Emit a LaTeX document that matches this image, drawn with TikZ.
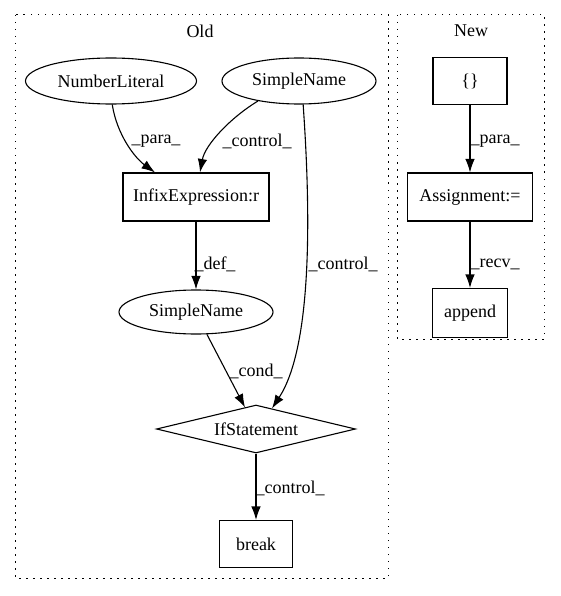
\documentclass[tikz,border=0pt]{standalone}
\usepackage{fontspec}
\setmainfont{Liberation Serif}
\usetikzlibrary{arrows.meta, shapes.geometric}
\tikzstyle{dots} = [dash pattern=on 1.5pt off 5.5pt, line width=1pt]
\tikzstyle{box} = [draw, line width=1.1pt, minimum height=48pt, inner sep=0pt]
\tikzstyle{oval} = [draw, ellipse, line width=1.1pt, minimum height=46pt, inner sep=0pt]
\tikzstyle{edge} = [-{Latex[length=13.5pt,width=9.5pt]}, line width=1.1pt]

\begin{document}
\begin{tikzpicture}[x=1pt, y=-1pt, font=\fontsize{18}{22}\selectfont]
			\useasboundingbox (0,0) rectangle (560,596);

			% clusters
			\draw [dots] (15,15) rectangle (388,578);
			\node (Old) at (200,31) {Old};
			\draw [dots] (397,15) rectangle (544,339);
			\node (New) at (471,31) {New};

			% old graph
			\node (NumLit) [oval, minimum width=171pt] at (111,81) {NumberLiteral};
			\node (Name1) [oval, minimum width=154pt] at (299,81) {SimpleName};
			\node (Infix) [box, minimum width=146pt] at (196,197) {InfixExpression:r};
			\node (Name2) [oval, minimum width=154pt, minimum height=44pt] at (196,312) {SimpleName};
			\node (If) [draw, diamond, aspect=4, line width=1.1pt, inner sep=0pt, minimum width=199pt, minimum height=48pt] at (256,429) {IfStatement};
			\node (Break) [box, minimum width=73pt, minimum height=47pt] at (256,544) {break};

			\draw [edge] (NumLit.-87) .. controls (117,135) and (135,158) .. ([xshift=-41pt]Infix.north);
			\draw [edge] (Name1.-154) .. controls (230,118) and (205,145) .. ([xshift=4pt]Infix.north);
			\draw [edge] (Name1.-80) .. controls (312,230) and (310,350) .. ([xshift=16pt,yshift=-4pt]If.north);
			\draw [edge] (Infix) -- (Name2);
			\draw [edge] (Name2.-64) -- ([xshift=-11pt,yshift=-3pt]If.north);
			\draw [edge] (If) -- (Break);

			\node (LPara) at (156,141) {\_para\_};
			\node (LCtrl1) at (257,141) {\_control\_};
			\node (LDef) at (215,264) {\_def\_};
			\node (LCtrl2) at (343,264) {\_control\_};
			\node (LCond) at (256,371) {\_cond\_};
			\node (LCtrl3) at (290,488) {\_control\_};

			% new graph
			\node (Braces) [box, minimum width=74pt, minimum height=47pt] at (470,81) {\{\}};
			\node (Assign) [box, minimum width=125pt] at (470,197) {Assignment:=};
			\node (Append) [box, minimum width=75pt, minimum height=49pt] at (470,313) {append};

			\draw [edge] (Braces) -- (Assign);
			\draw [edge] (Assign) -- (Append);

			\node (LPara2) at (495,141) {\_para\_};
			\node (LRecv) at (495,264) {\_recv\_};
		\end{tikzpicture}
\end{document}
